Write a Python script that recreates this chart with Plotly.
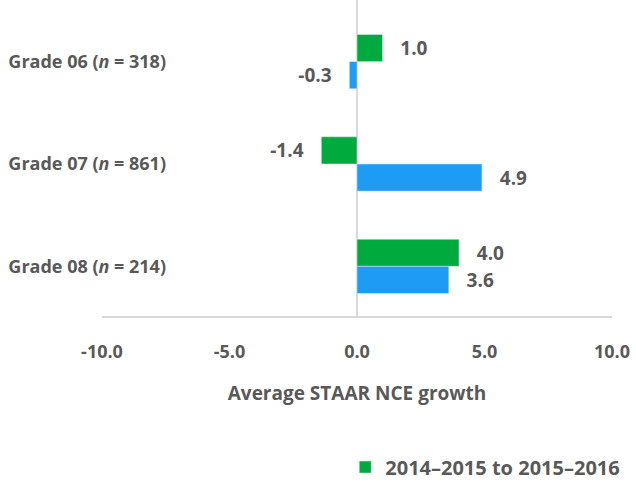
import plotly.graph_objects as go

categories = ["Grade 06 (<i>n</i> = 318)", "Grade 07 (<i>n</i> = 861)", "Grade 08 (<i>n</i> = 214)"]
green_name = "2014–2015 to 2015–2016"
green_values = [1.0, -1.4, 4.0]
blue_name = "Other period"
blue_values = [-0.3, 4.9, 3.6]
x_tick_values = [-10, -5, 0, 5, 10]
x_tick_labels = ["-10.0", "-5.0", "0.0", "5.0", "10.0"]

FONT = "Open Sans, sans-serif"
GRAY = "#595959"

def labels(vals):
    return [("   " + f"{v:.1f}") if v >= 0 else (f"{v:.1f}" + "   ") for v in vals]

fig = go.Figure()
fig.add_trace(go.Bar(
    y=categories, x=green_values, orientation="h", name=green_name,
    marker=dict(color="#00AA3C"),
    text=labels(green_values), textposition="outside", cliponaxis=False,
    textfont=dict(size=19, color=GRAY, family=FONT, weight="bold"),
))
fig.add_trace(go.Bar(
    y=categories, x=blue_values, orientation="h", name=blue_name,
    marker=dict(color="#1E9BF5"), showlegend=False,
    text=labels(blue_values), textposition="outside", cliponaxis=False,
    textfont=dict(size=19, color=GRAY, family=FONT, weight="bold"),
))

fig.update_layout(
    width=636, height=487,
    margin=dict(l=102, r=24, t=0, b=169),
    paper_bgcolor="white", plot_bgcolor="white",
    barmode="group", bargap=0.47, bargroupgap=0,
    font=dict(family=FONT, color=GRAY, weight="bold"),
    showlegend=True,
    legend=dict(orientation="h", x=1.026, xanchor="right", y=-0.478, yanchor="middle",
                font=dict(size=20, color=GRAY, family=FONT, weight="bold"), traceorder="normal"),
    xaxis=dict(range=[-10, 10], tickvals=x_tick_values, ticktext=x_tick_labels, showgrid=False,
               zeroline=True, zerolinecolor="#D9D9D9", zerolinewidth=2,
               showline=True, linecolor="#D9D9D9", linewidth=2,
               tickfont=dict(size=18, color=GRAY, family=FONT, weight="bold"),
               ticklabelstandoff=18,
               title=dict(text="Average STAAR NCE growth", font=dict(size=19, color=GRAY, family=FONT, weight="bold"), standoff=25),
               fixedrange=True),
    yaxis=dict(type="category", range=[2.485, -0.602], showgrid=False, showline=False,
               tickfont=dict(size=18, color=GRAY, family=FONT, weight="bold"),
               ticklabelstandoff=-65, automargin=False, fixedrange=True),
)

fig.write_html("out.html", config={"displayModeBar": False},
               post_script="document.body.style.margin='0px';")
